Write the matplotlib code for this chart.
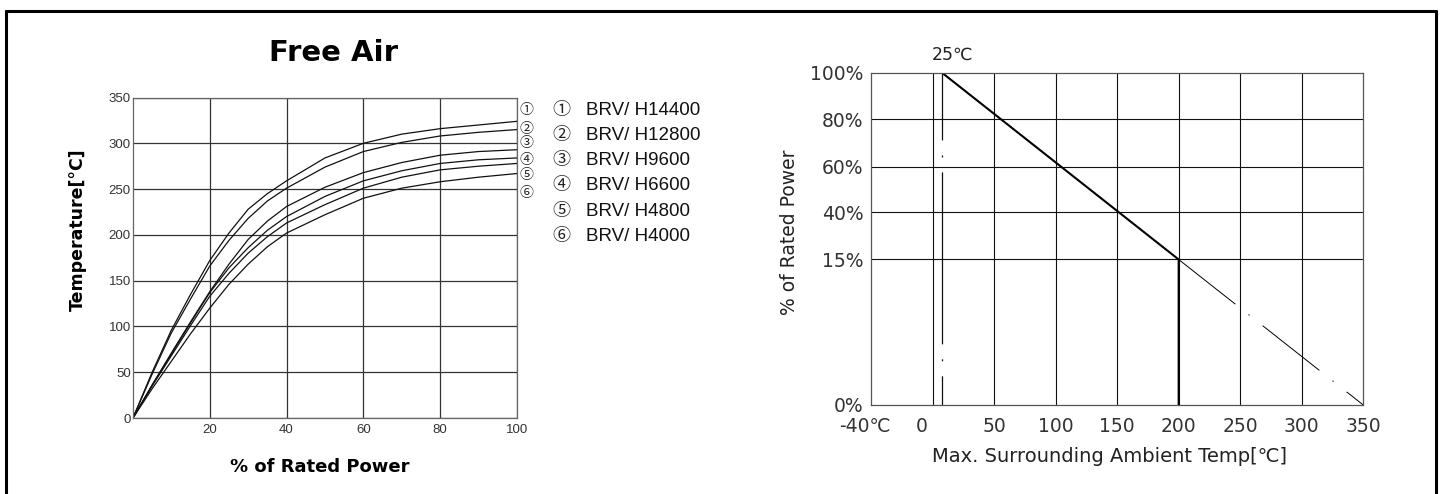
import numpy as np
import matplotlib.pyplot as plt
import matplotlib.transforms as mtransforms
from matplotlib.lines import Line2D

plt.rcParams['lines.scale_dashes'] = False

# ---- left chart: temperature rise vs load ----
power = [0, 5, 10, 15, 20, 25, 30, 35, 40, 50, 60, 70, 80, 90, 100]
t_14400 = [0, 50, 96, 135, 172, 202, 228, 245, 259, 284, 300, 310, 316, 320, 324]
t_12800 = [0, 48, 93, 130, 166, 194, 218, 237, 251, 274, 291, 301, 308, 312, 315]
t_9600 = [0, 36, 71, 105, 138, 168, 195, 215, 231, 252, 268, 279, 287, 291, 293]
t_6600 = [0, 36, 70, 104, 137, 164, 186, 205, 220, 242, 259, 270, 278, 282, 284]
t_4800 = [0, 35, 68, 101, 133, 158, 180, 198, 213, 233, 251, 263, 271, 275, 278]
t_4000 = [0, 32, 62, 92, 120, 146, 168, 187, 202, 222, 240, 251, 258, 263, 267]
curves = [t_14400, t_12800, t_9600, t_6600, t_4800, t_4000]
marks = ['①', '②', '③', '④', '⑤', '⑥']
models = ['BRV/ H14400', 'BRV/ H12800', 'BRV/ H9600', 'BRV/ H6600', 'BRV/ H4800', 'BRV/ H4000']
mark_y = [336, 316, 300, 282, 265, 246]

# ---- right chart: derating curve ----
derate_temp = [-40, 25, 200, 200]
derate_pct = [100, 100, 15, 0]
ext_temp = [200, 350]
ext_pct = [15, 0]
rx_ticks = [-40, 0, 50, 100, 150, 200, 250, 300, 350]
rx_labels = ['-40℃', '0', '50', '100', '150', '200', '250', '300', '350']
ry_ticks = [0, 15, 40, 60, 80, 100]
ry_labels = ['0%', '15%', '40%', '60%', '80%', '100%']

fig = plt.figure(figsize=(14.42, 4.94), dpi=100)

sym = ['Liberation Sans', 'Noto Sans CJK JP', 'DejaVu Sans']
cjk = ['DejaVu Sans', 'Noto Sans CJK JP']

# left
ax = fig.add_axes([0.0922, 0.1538, 0.2663, 0.6488])
for c in curves:
    ax.plot(power, c, color='#111', lw=0.9)
ax.set_xlim(0, 100)
ax.set_ylim(0, 350)
ax.set_xticks([20, 40, 60, 80, 100])
ax.set_yticks(range(0, 351, 50))
ax.grid(True, color='#333', lw=0.9)
ax.tick_params(length=0, labelsize=9.5, labelcolor='#333')
ax.tick_params(axis='x', pad=4.5)
ax.tick_params(axis='y', pad=1.5)
for lab in ax.get_xticklabels() + ax.get_yticklabels():
    lab.set_family('Liberation Sans')
for s in ax.spines.values():
    s.set_color('#666')
    s.set_linewidth(0.9)
ax.set_xlabel('% of Rated Power', fontsize=13, fontweight='bold', va='center')
ax.xaxis.set_label_coords(0.487, -0.153)
ax.set_ylabel('Temperature[°C]', fontsize=12.5, fontweight='bold', va='center')
ax.yaxis.set_label_coords(-0.143, 0.587)
fig.text(0.2316, 0.8927, 'Free Air', fontsize=21, fontweight='bold', ha='center', va='center')

for m, y in zip(marks, mark_y):
    ax.text(102.5, y, m, fontsize=10, family=sym, ha='center', va='center', color='#222', clip_on=False)
for i, (m, name) in enumerate(zip(marks, models)):
    yy = 0.961 - i * 0.079
    ax.text(1.116, yy, m, transform=ax.transAxes, fontsize=13, family=sym, ha='center', va='center', color='#222')
    ax.text(1.18, yy, name, transform=ax.transAxes, fontsize=13.5, family=sym, ha='left', va='center', color='#111')

# right (axis is not to scale in the source, so piecewise scales)
ax2 = fig.add_axes([0.6040, 0.1802, 0.3414, 0.6727])
xk_in, xk_out = [-40, 0, 25, 50, 350], [-1.0, 0.0, 0.153, 1.0, 7.0]
yk_in, yk_out = [0, 15, 40, 60, 80, 100], [0, 145.5, 192.7, 238.3, 285.7, 332.3]
ax2.set_xscale('function', functions=(lambda v: np.interp(v, xk_in, xk_out),
                                       lambda v: np.interp(v, xk_out, xk_in)))
ax2.set_yscale('function', functions=(lambda v: np.interp(v, yk_in, yk_out),
                                       lambda v: np.interp(v, yk_out, yk_in)))
ax2.set_xlim(-40, 350)
ax2.set_ylim(0, 100)
for gx in [0, 50, 100, 150, 200, 250, 300]:
    ax2.axvline(gx, color='#111', lw=0.8)
for gy in [15, 40, 60, 80]:
    ax2.axhline(gy, color='#111', lw=0.8)
ax2.plot([25, 25], [100, 0], color='#111', lw=0.9, linestyle=(75.6, (123.8, 10.8, 1.4, 10.8)))
ax2.plot(derate_temp, derate_pct, color='#000', lw=1.5)
ax2.plot(ext_temp, ext_pct, color='#000', lw=0.7, linestyle=(0, (52, 12, 1, 12)))
ax2.set_xticks(rx_ticks)
ax2.set_xticklabels(rx_labels)
ax2.set_yticks(ry_ticks)
ax2.set_yticklabels(ry_labels)
ax2.minorticks_off()
ax2.tick_params(length=0, labelsize=13.5, labelcolor='#333')
ax2.tick_params(axis='x', pad=9)
ax2.tick_params(axis='y', pad=5.5)
for lab in ax2.get_xticklabels() + ax2.get_yticklabels():
    lab.set_family(cjk)
xl = ax2.get_xticklabels()
xl[0].set_transform(xl[0].get_transform() + mtransforms.ScaledTranslation(-6 / 100, 0, fig.dpi_scale_trans))
xl[1].set_transform(xl[1].get_transform() + mtransforms.ScaledTranslation(-11 / 100, 0, fig.dpi_scale_trans))
for s in ax2.spines.values():
    s.set_color('#555')
    s.set_linewidth(0.9)
ax2.set_xlabel('Max. Surrounding Ambient Temp[℃]', fontsize=14, family=cjk, color='#222', va='center')
ax2.xaxis.set_label_coords(0.4855, -0.1556)
ax2.set_ylabel('% of Rated Power', fontsize=13.5, family=cjk, color='#222', va='center')
ax2.yaxis.set_label_coords(-0.1645, 0.5206)
ax2.text(0.1666, 1.053, '25℃', transform=ax2.transAxes, fontsize=12.5, family=cjk, ha='center', va='center', color='#222')

# outer frame
fig.add_artist(Line2D([6 / 1442, 6 / 1442], [0, 1 - 10 / 494], color='k', lw=2.2, solid_capstyle='butt'))
fig.add_artist(Line2D([5 / 1442, 1437 / 1442], [1 - 11 / 494, 1 - 11 / 494], color='k', lw=2.2, solid_capstyle='butt'))
fig.add_artist(Line2D([1436 / 1442, 1436 / 1442], [0, 1 - 10 / 494], color='k', lw=2.2, solid_capstyle='butt'))

fig.savefig('out.png', dpi=100)
